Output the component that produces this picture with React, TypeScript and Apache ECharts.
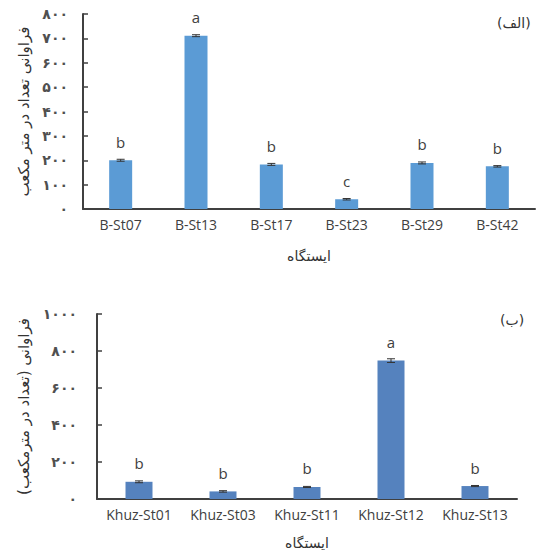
import React, { useEffect, useRef } from "react";
import * as echarts from "echarts";

const topCategories = ["B-St07", "B-St13", "B-St17", "B-St23", "B-St29", "B-St42"];
const topValues = [200, 711, 183, 40, 189, 175];
const topErrors = [4, 4, 4, 3, 4, 3];
const topLetters = ["b", "a", "b", "c", "b", "b"];

const bottomCategories = ["Khuz-St01", "Khuz-St03", "Khuz-St11", "Khuz-St12", "Khuz-St13"];
const bottomValues = [93, 41, 65, 748, 70];
const bottomErrors = [5, 4, 3, 10, 3];
const bottomLetters = ["b", "b", "b", "a", "b"];

const xAxisTitle = "ایستگاه";
const topYTitle = "فراوانی تعداد در متر مکعب";
const bottomYTitle = "فراوانی (تعداد در مترمکعب)\u200F";
const topPanel = "(الف)";
const bottomPanel = "(ب)";

const faDigits = ["۰", "۱", "۲", "۳", "۴", "۵", "۶", "۷", "۸", "۹"];
const toFa = (v: number) => String(v).replace(/[0-9]/g, (d) => faDigits[Number(d)]);

const latin = "'Open Sans', 'Liberation Sans', sans-serif";
const persian = "'DejaVu Sans', 'Noto Sans', sans-serif";
const axisColor = "#404040";

function errorRender(params: any, api: any) {
  const x = api.value(0);
  const v = api.value(1);
  const e = api.value(2);
  const hi = api.coord([x, v + e]);
  const lo = api.coord([x, v - e]);
  const w = 4;
  const style = { stroke: "#333333", lineWidth: 1 };
  return {
    type: "group",
    children: [
      { type: "line", shape: { x1: hi[0], y1: hi[1], x2: lo[0], y2: lo[1] }, style },
      { type: "line", shape: { x1: hi[0] - w, y1: hi[1], x2: hi[0] + w, y2: hi[1] }, style },
      { type: "line", shape: { x1: lo[0] - w, y1: lo[1], x2: lo[0] + w, y2: lo[1] }, style },
    ],
  };
}

export default function App() {
  const ref = useRef<HTMLDivElement>(null);
  useEffect(() => {
    document.body.style.margin = "0";
    if (!ref.current) return;
    const chart = echarts.init(ref.current, undefined, { renderer: "svg" });
    const xAxisCommon = (data: string[], gridIndex: number, gap: number) => ({
      type: "category",
      gridIndex,
      data,
      axisLine: { lineStyle: { color: axisColor, width: 2 } },
      axisTick: { show: false },
      axisLabel: { color: "#404040", fontFamily: latin, fontSize: 14, margin: 8, interval: 0 },
      name: xAxisTitle,
      nameLocation: "middle",
      nameGap: gap,
      nameTextStyle: { fontFamily: persian, fontSize: 14, color: "#333333" },
    });
    const yAxisCommon = (gridIndex: number, max: number, interval: number, name: string, gap: number, margin: number) => ({
      type: "value",
      gridIndex,
      min: 0,
      max,
      interval,
      axisLine: { show: true, lineStyle: { color: axisColor, width: 2 } },
      axisTick: { show: true, inside: true, length: 5, lineStyle: { color: axisColor, width: 1.5 } },
      splitLine: { show: false },
      axisLabel: { color: "#505050", fontFamily: persian, fontSize: 14, fontWeight: "bold", margin, formatter: (v: number) => toFa(v) },
      name,
      nameLocation: "middle",
      nameRotate: 90,
      nameGap: gap,
      nameTextStyle: { fontFamily: persian, fontSize: 15, color: "#333333" },
    });
    chart.setOption({
      animation: false,
      grid: [
        { left: 83, top: 14, width: 452, height: 195 },
        { left: 97, top: 314, width: 420, height: 185 },
      ],
      xAxis: [xAxisCommon(topCategories, 0, 40), xAxisCommon(bottomCategories, 1, 37)],
      yAxis: [
        yAxisCommon(0, 800, 100, topYTitle, 50, 15),
        yAxisCommon(1, 1000, 200, bottomYTitle, 64, 20),
      ],
      series: [
        {
          type: "bar",
          xAxisIndex: 0,
          yAxisIndex: 0,
          data: topValues,
          barWidth: 23,
          itemStyle: { color: "#5b9bd5" },
          label: {
            show: true,
            position: "top",
            distance: 11,
            fontFamily: latin,
            fontSize: 15,
            color: "#404040",
            formatter: (p: any) => topLetters[p.dataIndex],
          },
        },
        {
          type: "custom",
          xAxisIndex: 0,
          yAxisIndex: 0,
          renderItem: errorRender,
          encode: { x: 0, y: 1 },
          data: topCategories.map((_, i) => [i, topValues[i], topErrors[i]]),
          z: 5,
        },
        {
          type: "bar",
          xAxisIndex: 1,
          yAxisIndex: 1,
          data: bottomValues,
          barWidth: 27,
          itemStyle: { color: "#5582be" },
          label: {
            show: true,
            position: "top",
            distance: 11,
            fontFamily: latin,
            fontSize: 15,
            color: "#404040",
            formatter: (p: any) => bottomLetters[p.dataIndex],
          },
        },
        {
          type: "custom",
          xAxisIndex: 1,
          yAxisIndex: 1,
          renderItem: errorRender,
          encode: { x: 0, y: 1 },
          data: bottomCategories.map((_, i) => [i, bottomValues[i], bottomErrors[i]]),
          z: 5,
        },
      ],
      graphic: [
        {
          type: "text",
          left: 497,
          top: 16,
          style: { text: topPanel, font: `14px ${persian}`, fill: "#333333" },
        },
        {
          type: "text",
          left: 500,
          top: 313,
          style: { text: bottomPanel, font: `14px ${persian}`, fill: "#333333" },
        },
      ],
    });
    return () => chart.dispose();
  }, []);
  return <div ref={ref} style={{ width: 536, height: 556 }} />;
}
